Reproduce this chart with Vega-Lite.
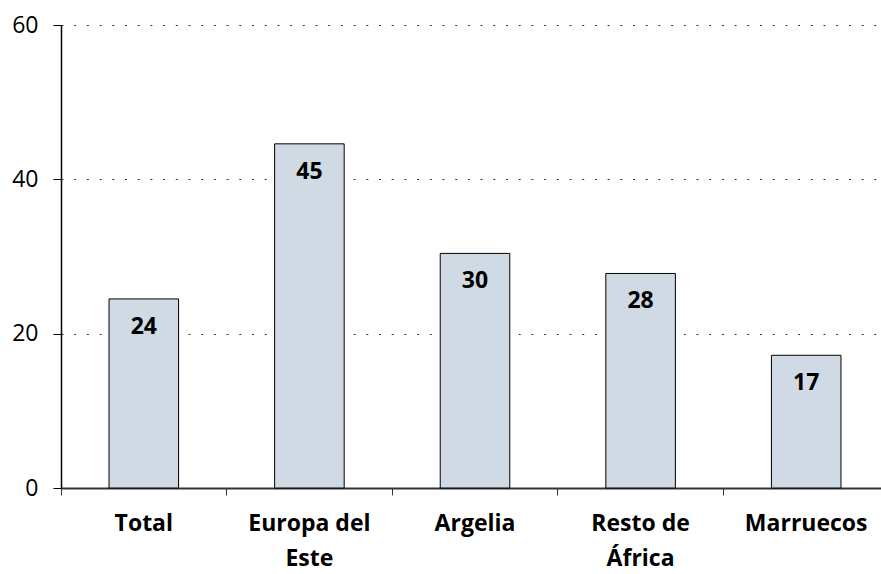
{
  "$schema": "https://vega.github.io/schema/vega-lite/v6.json",
  "width": 828,
  "height": 463,
  "autosize": {"type": "none"},
  "padding": {"left": 61, "top": 25, "right": 0, "bottom": 86},
  "background": "white",
  "config": {
    "view": {"stroke": null},
    "font": "Open Sans"
  },
  "data": {
    "values": [
      {"region": "Total", "value": 24.5, "label": "24"},
      {"region": "Europa del Este", "value": 44.6, "label": "45"},
      {"region": "Argelia", "value": 30.4, "label": "30"},
      {"region": "Resto de África", "value": 27.8, "label": "28"},
      {"region": "Marruecos", "value": 17.2, "label": "17"}
    ]
  },
  "encoding": {
    "x": {
      "field": "region",
      "type": "nominal",
      "sort": null,
      "scale": {"paddingInner": 0, "paddingOuter": 0},
      "axis": {
        "title": null,
        "labelAngle": 0,
        "bandPosition": 0,
        "labelExpr": "datum.label == 'Europa del Este' ? ['Europa del', 'Este'] : datum.label == 'Resto de África' ? ['Resto de', 'África'] : datum.label",
        "labelFont": "Open Sans",
        "labelFontSize": 23,
        "labelFontWeight": "bold",
        "labelColor": "black",
        "labelLineHeight": 35,
        "labelPadding": 17,
        "labelBaseline": "top",
        "labelAlign": "center",
        "labelBound": false,
        "labelOverlap": false,
        "domainColor": "#333333",
        "domainWidth": 2,
        "tickColor": "#333333",
        "tickSize": 7,
        "tickWidth": 1,
        "grid": false
      }
    },
    "y": {
      "field": "value",
      "type": "quantitative",
      "scale": {"domain": [0, 60], "nice": false},
      "axis": {
        "title": null,
        "values": [0, 20, 40, 60],
        "labelFont": "Open Sans",
        "labelFontSize": 23,
        "labelColor": "black",
        "labelPadding": 15,
        "tickSize": 8,
        "tickColor": "black",
        "domainColor": "black",
        "domainWidth": 1.5,
        "grid": true,
        "gridColor": "#333333",
        "gridDash": [2, 10.7],
        "gridWidth": 1
      }
    }
  },
  "layer": [
    {
      "mark": {"type": "bar", "width": {"band": 0.42}, "fill": "#d0dae4", "stroke": "black", "strokeWidth": 1}
    },
    {
      "mark": {"type": "text", "baseline": "middle", "dy": 28, "fontSize": 23, "fontWeight": "bold", "color": "black", "font": "Open Sans"},
      "encoding": {"text": {"field": "label"}}
    }
  ]
}
